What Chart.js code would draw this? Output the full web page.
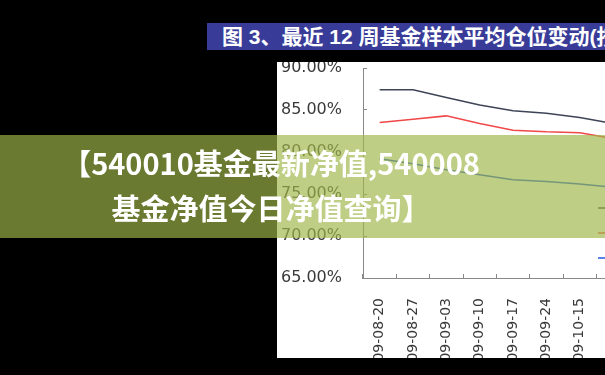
<!DOCTYPE html>
<html>
<head>
<meta charset="utf-8">
<script src="https://cdn.jsdelivr.net/npm/chart.js@4"></script>
<style>
  html, body { margin: 0; padding: 0; }
  body { width: 605px; height: 375px; background: #000; overflow: hidden; position: relative; }
  .titlebar {
    position: absolute; left: 207px; top: 23px; width: 420px; height: 27px;
    background: #383c98; color: #fff; white-space: nowrap; overflow: hidden;
    font: bold 21px "Liberation Sans", "Noto Sans CJK SC", sans-serif;
    line-height: 27px; padding-left: 15px; box-sizing: border-box;
  }
  .pic {
    position: absolute; left: 277px; top: 62px; width: 328px; height: 296px;
    background: #fff; overflow: hidden;
  }
  #posChart { position: absolute; left: 0; top: 0; }
  .banner {
    position: absolute; left: 0; top: 135px; width: 605px; height: 103px;
    background: rgba(158, 182, 72, 0.67);
    display: flex; align-items: center; justify-content: center;
  }
  .banner div {
    width: 542px; margin-right: 63px; margin-top: -3px; text-align: center; color: #fff;
    font: bold 29px "Noto Sans CJK SC", sans-serif; line-height: 45px;
  }
</style>
</head>
<body>
<div class="titlebar">图 3、最近 12 周基金样本平均仓位变动(按类型)</div>
<div class="pic">
  <canvas id="posChart" width="500" height="320"></canvas>
</div>
<div class="banner"><div>【540010基金最新净值,540008<br>基金净值今日净值查询】</div></div>

<script>
// weekly dates (12 weeks, right part is cut off in the picture)
const weeks = [
  "09-08-20", "09-08-27", "09-09-03", "09-09-10", "09-09-17", "09-09-24",
  "09-10-15", "09-10-22", "09-10-29", "09-11-05", "09-11-12", "09-11-19",
];
const seriesNames = ["股票型", "偏股型", "平衡型"];
const stockFund = [87.4, 87.4, 86.5, 85.6, 84.9, 84.6, 84.1, 83.4, 83.0, 82.6, 82.9, 83.2];
const partialStock = [83.5, 83.9, 84.3, 83.4, 82.6, 82.4, 82.3, 81.6, 81.0, 80.6, 81.0, 81.3];
const balanced = [79.2, 78.6, 77.9, 77.3, 76.7, 76.5, 76.2, 75.8, 75.4, 75.0, 75.4, 75.8];
const yTicks = [65, 70, 75, 80, 85, 90];

const lineColors = ["#3c4456", "#f04848", "#2456e0"];

// legend sits inside the plot, lower right
const innerLegend = {
  id: "innerLegend",
  afterDatasetsDraw(chart) {
    const { ctx, chartArea } = chart;
    ctx.save();
    chart.data.datasets.forEach((ds, i) => {
      const x = chartArea.left + 235;
      const y = chartArea.top + 140 + i * 25;
      ctx.strokeStyle = ds.borderColor;
      ctx.lineWidth = 1.5;
      ctx.beginPath();
      ctx.moveTo(x, y);
      ctx.lineTo(x + 24, y);
      ctx.stroke();
      ctx.fillStyle = "#333";
      ctx.font = "14px 'Noto Sans CJK SC'";
      ctx.textBaseline = "middle";
      ctx.fillText(ds.label, x + 30, y);
    });
    ctx.restore();
  },
};

const ctx = document.getElementById("posChart").getContext("2d");
const data = {
  labels: weeks,
  datasets: [
    { label: seriesNames[0], data: stockFund, borderColor: lineColors[0] },
    { label: seriesNames[1], data: partialStock, borderColor: lineColors[1] },
    { label: seriesNames[2], data: balanced, borderColor: lineColors[2] },
  ],
};

const config = {
  type: "line",
  data,
  options: {
    responsive: false,
    animation: false,
    devicePixelRatio: 1,
    elements: {
      line: { borderWidth: 1.5, tension: 0, fill: false },
      point: { radius: 0, hoverRadius: 0 },
    },
    layout: { autoPadding: false, padding: { top: 6, right: 14, left: 0, bottom: 0 } },
    plugins: { legend: { display: false }, tooltip: { enabled: false } },
    scales: {
      x: {
        offset: true,
        grid: { offset: true, drawOnChartArea: false, tickLength: -4, color: "#888" },
        border: { color: "#888" },
        ticks: {
          autoSkip: false, minRotation: 90, maxRotation: 90, padding: 24,
          color: "#3a3a3a", font: { family: "DejaVu Sans", size: 14 },
        },
        afterFit: (s) => { s.height = 104; s.paddingLeft = 0; s.paddingRight = 0; },
      },
      y: {
        min: yTicks[0],
        max: yTicks[yTicks.length - 1],
        afterBuildTicks: (s) => { s.ticks = yTicks.map((v) => ({ value: v })); },
        grid: { drawOnChartArea: false, tickLength: -4, color: "#888" },
        border: { color: "#888" },
        ticks: {
          padding: 25, color: "#3a3a3a", font: { family: "DejaVu Sans", size: 16 },
          callback: (v) => v.toFixed(2) + "%",
        },
        afterFit: (s) => { s.width = 86; s.paddingTop = 0; s.paddingBottom = 0; },
      },
    },
  },
  plugins: [innerLegend],
};

new Chart(ctx, config);
</script>
</body>
</html>
